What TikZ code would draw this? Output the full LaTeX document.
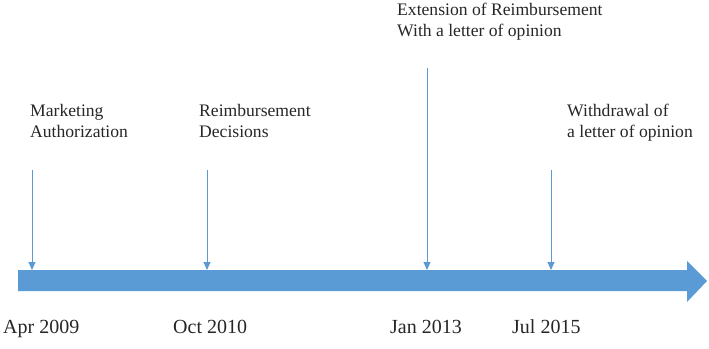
\documentclass[tikz,border=0pt]{standalone}
\usepackage{fontspec}
\setmainfont{Liberation Serif}
\newfontfamily\lserif{Liberation Serif}
\usetikzlibrary{arrows.meta}
\definecolor{tlblue}{RGB}{91,155,213}
\begin{document}
\begin{tikzpicture}[x=1pt,y=-1pt,
  lbl/.style={anchor=north west,inner sep=0pt,align=left,text=black!85,
    font=\lserif\fontsize{17.6}{21}\selectfont},
  datelbl/.style={anchor=base west,inner sep=0pt,text=black!85,
    font=\lserif\fontsize{20}{24}\selectfont},
  tick/.style={draw=tlblue,line width=1pt,-{Triangle[length=8pt,width=7pt]}}]
\useasboundingbox (0,0) rectangle (709,348);
% main timeline arrow
\fill[tlblue] (18,270) -- (687,270) -- (687,261) -- (707,281) -- (687,302)
  -- (687,291) -- (18,291) -- cycle;
% axis attach points
\coordinate (a1) at (32,270);
\coordinate (a2) at (207,270);
\coordinate (a3) at (427,270);
\coordinate (a4) at (551,270);
\coordinate (t1) at (32,170);
\coordinate (t2) at (207,170);
\coordinate (t3) at (427,68);
\coordinate (t4) at (551,170);
\draw[tick] (t1) -- (a1);
\draw[tick] (t2) -- (a2);
\draw[tick] (t3) -- (a3);
\draw[tick] (t4) -- (a4);
% event labels
\node[lbl] (e1) at (30,104.5) {Marketing\\Authorization};
\node[lbl] (e2) at (199,104.5) {Reimbursement\\Decisions};
\node[lbl] (e3) at (397,2.5) {Extension of Reimbursement\\With a letter of opinion};
\node[lbl] (e4) at (567,104) {Withdrawal of\\a letter of opinion};
% dates
\node[datelbl] (d1) at (3,333) {Apr 2009};
\node[datelbl] (d2) at (173,333) {Oct 2010};
\node[datelbl] (d3) at (390,333) {Jan 2013};
\node[datelbl] (d4) at (512,333) {Jul 2015};
\end{tikzpicture}
\end{document}
